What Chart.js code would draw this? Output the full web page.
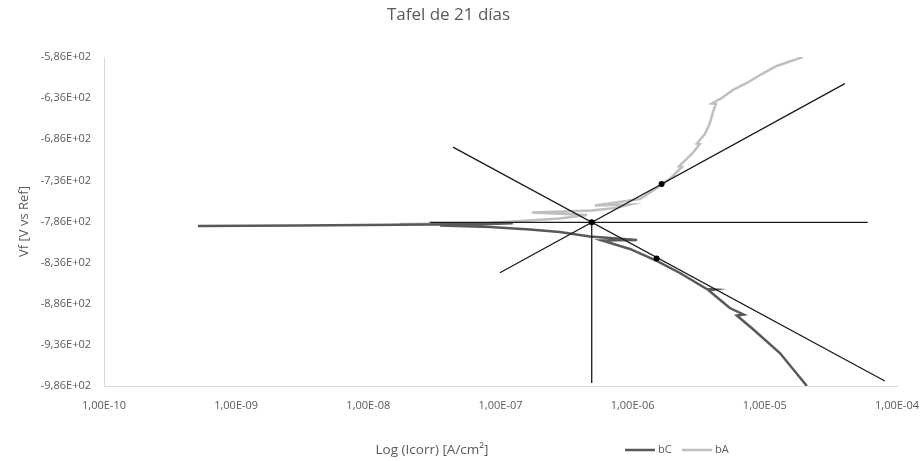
<!DOCTYPE html>
<html>
<head>
<meta charset="utf-8">
<title>Tafel de 21 días</title>
<script src="https://cdn.jsdelivr.net/npm/chart.js@4.4.0/dist/chart.umd.min.js"></script>
<style>
  body { margin: 0; background: #fff; }
  #wrap { width: 924px; height: 461px; }
</style>
</head>
<body>
<div id="wrap"><canvas id="tafelChart"></canvas></div>
<script>
// curvas medidas (corriente en A/cm², potencial en mV)
const bcCurrent = [5.14e-10, 3.04e-9, 2.92e-8, 1.24e-7, 3.48e-8, 8.32e-8, 1.67e-7, 2.81e-7, 4.74e-7, 1.08e-6, 5.85e-7, 9.53e-7, 1.52e-6, 2.28e-6, 3.64e-6, 4.19e-6, 3.77e-6, 5.43e-6, 6.93e-6, 6.14e-6, 8.11e-6, 1.30e-5, 2.08e-5];
const bcPotential = [-791.5, -790.9, -789.6, -788.1, -790.9, -792.7, -795.7, -798.8, -804.2, -808.5, -809.1, -819.4, -834.0, -848.6, -868.1, -868.7, -869.9, -891.2, -899.1, -900.3, -916.7, -945.9, -986];

const baCurrent = [1.73e-8, 8.32e-8, 2.81e-7, 4.51e-7, 1.73e-7, 4.91e-7, 7.33e-7, 9.53e-7, 5.18e-7, 1.135e-6, 1.61e-6, 1.98e-6, 2.36e-6, 2.24e-6, 2.85e-6, 3.22e-6, 3.06e-6, 3.52e-6, 3.84e-6, 4.05e-6, 4.26e-6, 3.97e-6, 4.73e-6, 5.73e-6, 7.31e-6, 9.48e-6, 1.23e-5, 1.94e-5];
const baPotential = [-789.0, -787.8, -782.4, -778.1, -775.1, -772.6, -769.6, -765.3, -766.5, -758.6, -742.8, -731.9, -719.7, -719.1, -702.7, -691.8, -691.2, -679.6, -666.2, -652.9, -643.1, -642.5, -635.8, -626.1, -617.6, -606.7, -596.9, -586];

// rectas de Tafel
const ecorrLineI = [2.92e-8, 6.0e-5];
const ecorrLineE = [-787, -787];
const icorrLineI = [4.9e-7, 4.9e-7];
const icorrLineE = [-787, -982.4];
const anodicI = [9.9e-8, 4.03e-5];
const anodicE = [-848.3, -618.4];
const cathodicI = [4.37e-8, 8.09e-5];
const cathodicE = [-695.6, -979.9];
const dotI = [4.9e-7, 1.656e-6, 1.517e-6];
const dotE = [-787, -740.5, -831];

// ejes
const xTicks = [1e-10, 1e-9, 1e-8, 1e-7, 1e-6, 1e-5, 1e-4];
const yTicks = [-986, -936, -886, -836, -786, -736, -686, -636, -586];

const textColor = '#595959';
const fontFamily = "'Open Sans', 'Liberation Sans', sans-serif";

function pts(xs, ys) {
    return xs.map((x, i) => ({ x: x, y: ys[i] }));
}

// formato tipo Excel: 1,00E-07
function sci(v) {
    const s = v.toExponential(2);
    const parts = s.split('e');
    const exp = parts[1];
    const sign = exp[0];
    let digits = exp.slice(1);
    if (digits.length < 2) digits = '0' + digits;
    return parts[0].replace('.', ',') + 'E' + sign + digits;
}

function blackLine(xs, ys) {
    return {
        data: pts(xs, ys),
        showLine: true,
        borderColor: '#1a1a1a',
        borderWidth: 1.3,
        pointRadius: 0,
        order: 0
    };
}

// leyenda y título del eje X en la misma línea, como en Excel
const bottomTexts = {
    id: 'bottomTexts',
    afterDraw(chart) {
        const ctx = chart.ctx;
        const y = 450;
        ctx.save();
        ctx.fillStyle = textColor;
        ctx.textBaseline = 'middle';
        ctx.textAlign = 'center';
        ctx.font = '13.5px ' + fontFamily;
        ctx.fillText('Log (Icorr) [A/cm²]', 432, y);

        const items = [
            { label: 'bC', color: '#595959', x: 625 },
            { label: 'bA', color: '#bfbfbf', x: 682 }
        ];
        ctx.font = '11px ' + fontFamily;
        ctx.textAlign = 'left';
        items.forEach(it => {
            ctx.strokeStyle = it.color;
            ctx.lineWidth = 2.5;
            ctx.beginPath();
            ctx.moveTo(it.x, y);
            ctx.lineTo(it.x + 30, y);
            ctx.stroke();
            ctx.fillText(it.label, it.x + 33, y);
        });
        ctx.restore();
    }
};

const ctx = document.getElementById('tafelChart').getContext('2d');

const tafelChart = new Chart(ctx, {
    type: 'scatter',
    data: {
        datasets: [
            {
                label: 'bC',
                data: pts(bcCurrent, bcPotential),
                showLine: true,
                borderColor: '#595959',
                borderWidth: 2.5,
                pointRadius: 0,
                order: 1
            },
            {
                label: 'bA',
                data: pts(baCurrent, baPotential),
                showLine: true,
                borderColor: '#bfbfbf',
                borderWidth: 2.5,
                pointRadius: 0,
                order: 2
            },
            blackLine(ecorrLineI, ecorrLineE),
            blackLine(icorrLineI, icorrLineE),
            blackLine(anodicI, anodicE),
            blackLine(cathodicI, cathodicE),
            {
                data: pts(dotI, dotE),
                pointRadius: 3,
                pointBackgroundColor: '#000',
                pointBorderWidth: 0,
                order: -1
            }
        ]
    },
    options: {
        responsive: true,
        maintainAspectRatio: false,
        animation: false,
        layout: { padding: { top: 0, right: 27, bottom: 35, left: 0 } },
        plugins: {
            legend: { display: false },
            tooltip: { enabled: false },
            title: {
                display: true,
                text: 'Tafel de 21 días',
                color: textColor,
                font: { family: fontFamily, size: 17, weight: 'normal', lineHeight: 1.2 },
                padding: { top: 5, bottom: 31.6 }
            }
        },
        scales: {
            x: {
                type: 'logarithmic',
                min: 1e-10,
                max: 1e-4,
                grid: { display: false, drawTicks: false },
                border: { display: true, color: '#d9d9d9', width: 1 },
                afterBuildTicks: (scale) => { scale.ticks = xTicks.map(v => ({ value: v })); },
                afterFit: (scale) => {
                    scale.height = 40;
                    scale.paddingLeft = 0;
                    scale.paddingRight = 0;
                },
                ticks: {
                    color: textColor,
                    padding: 13,
                    maxRotation: 0,
                    autoSkip: false,
                    font: { family: fontFamily, size: 11 },
                    callback: (v) => sci(v)
                }
            },
            y: {
                min: -986,
                max: -586,
                grid: { display: false, drawTicks: false },
                border: { display: true, color: '#d9d9d9', width: 1 },
                afterBuildTicks: (scale) => { scale.ticks = yTicks.map(v => ({ value: v })); },
                afterFit: (scale) => { scale.width = 104; },
                title: {
                    display: true,
                    text: 'Vf [V vs Ref]',
                    color: textColor,
                    font: { family: fontFamily, size: 13 },
                    padding: { top: 16, bottom: 0 }
                },
                ticks: {
                    color: textColor,
                    padding: 13,
                    font: { family: fontFamily, size: 11 },
                    callback: (v) => sci(v)
                }
            }
        }
    },
    plugins: [bottomTexts]
});
</script>
</body>
</html>
